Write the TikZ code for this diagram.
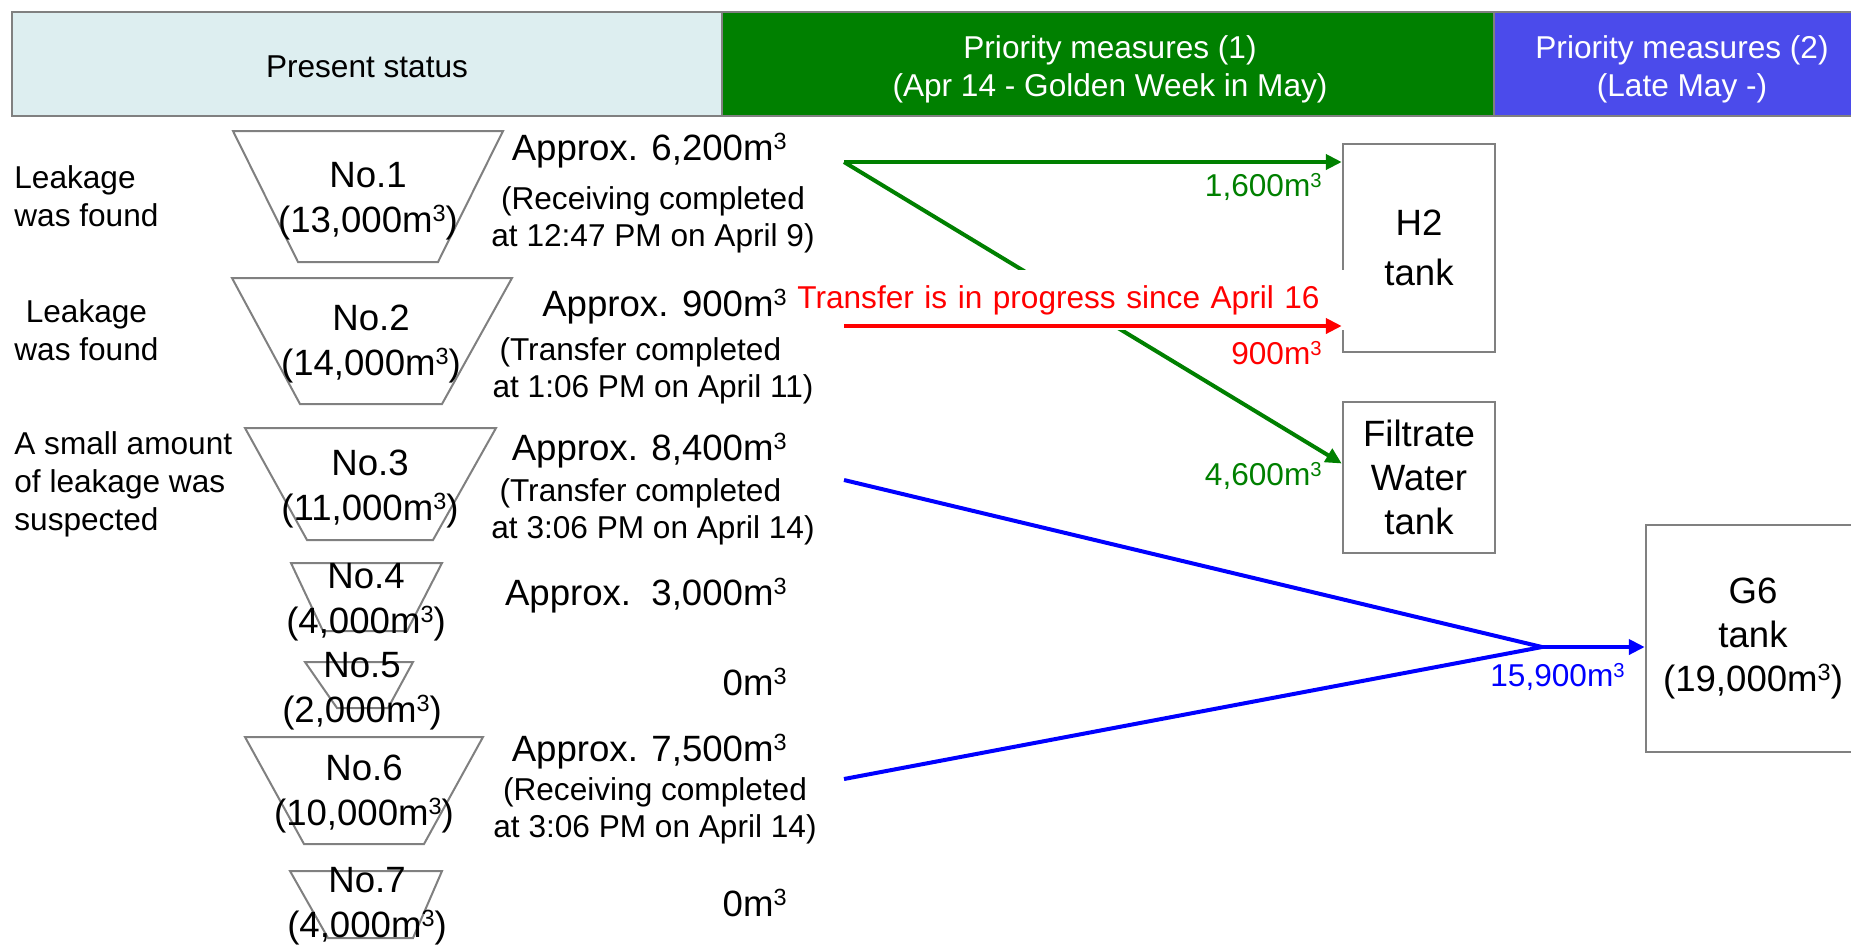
\documentclass[tikz,border=0pt]{standalone}
\usepackage{fontspec}
\usepackage{graphicx}
\setmainfont{Liberation Sans}
\usetikzlibrary{arrows.meta}
\definecolor{hdrcyan}{RGB}{221,238,240}
\definecolor{hdrgreen}{RGB}{0,128,0}
\definecolor{hdrblue}{RGB}{75,75,235}
\definecolor{lgray}{RGB}{128,128,128}
\definecolor{fgreen}{RGB}{0,128,0}
\newcommand\cub{m\raisebox{0.3em}{\scalebox{0.64}{3}}}
\begin{document}
\begin{tikzpicture}[x=0.5pt,y=-0.5pt,
  sm/.style={font=\fontsize{15.8pt}{19pt}\selectfont, inner sep=0pt},
  bg/.style={font=\fontsize{18.3pt}{22.5pt}\selectfont, inner sep=0pt, align=center},
  note/.style={font=\fontsize{15.8pt}{18.5pt}\selectfont, inner sep=0pt, align=center},
  hdr/.style={draw=lgray, line width=1.25pt, minimum height=52pt, inner sep=0pt},
  hdrtext/.style={align=center, font=\fontsize{15.8pt}{19pt}\selectfont, inner sep=0pt},
  tankbox/.style={draw=lgray, line width=1.25pt, fill=white, align=center, font=\fontsize{18.3pt}{22pt}\selectfont, inner sep=0pt},
  trap/.style={draw=lgray, line width=1pt},
  flow/.style={line width=2pt, -{Triangle[length=8pt,width=7.5pt]}},
]
\clip (0,0) rectangle (1851,944);
\fill[white] (0,0) rectangle (1851,944);

% header
\node[hdr, fill=hdrcyan, minimum width=355pt] (hd1) at (367,64) {};
\node[hdr, fill=hdrgreen, minimum width=386pt] (hd2) at (1108,64) {};
\node[hdr, fill=hdrblue, minimum width=188pt] (hd3) at (1682,64) {};
\node[hdrtext] (hd1t) at (367,67) {Present status};
\node[hdrtext, text=white] (hd2t) at (1110,69) {Priority measures (1)\\(Apr 14 - Golden Week in May)};
\node[hdrtext, text=white] (hd3t) at (1682,69) {Priority measures (2)\\(Late May -)};

% left labels
\node[sm, align=left, anchor=west] (l1) at (14,196) {Leakage\\was found};
\node[sm, align=center, anchor=west] (l2) at (14,330) {Leakage\\was found};
\node[sm, align=left, anchor=west] (l3) at (14,484) {A small amount\\of leakage was\\suspected};

% tanks (trapezoids)
\draw[trap] (233,131) -- (503,131) -- (438,262) -- (298,262) -- cycle;
\draw[trap] (232,278) -- (512,278) -- (442,404) -- (300,404) -- cycle;
\draw[trap] (245,428) -- (496,428) -- (433,540) -- (307,540) -- cycle;
\draw[trap] (291,563) -- (442,563) -- (407,631) -- (323,631) -- cycle;
\draw[trap] (305,662) -- (413,662) -- (388,708) -- (337,708) -- cycle;
\draw[trap] (245,737) -- (483,737) -- (424,844) -- (304,844) -- cycle;
\draw[trap] (290,871) -- (442,871) -- (413,938) -- (328,938) -- cycle;

\node[bg] (t1) at (368,201) {No.1\\(13,000\cub)};
\node[bg] (t2) at (371,344) {No.2\\(14,000\cub)};
\node[bg] (t3) at (370,489) {No.3\\(11,000\cub)};
\node[bg] (t4) at (366,602) {No.4\\(4,000\cub)};
\node[bg] (t5) at (362,691) {No.5\\(2,000\cub)};
\node[bg] (t6) at (364,794) {No.6\\(10,000\cub)};
\node[bg] (t7) at (367,906) {No.7\\(4,000\cub)};

% amounts
\node[bg, anchor=east] (a1) at (787,151) {Approx. 6,200\cub};
\node[bg, anchor=east] (a2) at (787,307) {Approx. 900\cub};
\node[bg, anchor=east] (a3) at (787,451) {Approx. 8,400\cub};
\node[bg, anchor=east] (a4) at (787,596) {Approx.\ \ 3,000\cub};
\node[bg, anchor=east] (a5) at (787,682) {0\cub};
\node[bg, anchor=east] (a6) at (787,752) {Approx. 7,500\cub};
\node[bg, anchor=east] (a7) at (787,903) {0\cub};

\node[note] (n1) at (653,220) {(Receiving completed\\at 12:47 PM on April 9)};
\node[note] (n2) at (653,371) {(Transfer completed\hspace*{0.8em}\\at 1:06 PM on April 11)};
\node[note] (n3) at (653,512) {(Transfer completed\hspace*{0.8em}\\at 3:06 PM on April 14)};
\node[note] (n6) at (655,811) {(Receiving completed\\at 3:06 PM on April 14)};

% destination tanks
\node[tankbox, minimum width=76pt, minimum height=104pt, font=\fontsize{18.3pt}{25pt}\selectfont] (h2t) at (1419,248) {H2\\tank};
\node[tankbox, minimum width=76pt, minimum height=75.5pt] (filt) at (1419,477.5) {Filtrate\\Water\\tank};
\node[tankbox, minimum width=107pt, minimum height=113.5pt] (g6) at (1753,638.5) {G6\\tank\\(19,000\cub)};

% flows
\coordinate (s1) at (844,162);
\coordinate (s2) at (844,326);
\coordinate (s3) at (844,480);
\coordinate (s6) at (844,779);
\coordinate (j) at (1542,647);

\draw[flow, fgreen] (s1) -- (s1 -| h2t.west);
\draw[flow, fgreen] (s1) -- ([yshift=7pt]filt.west);
\node[sm, text=red, fill=white, anchor=west, text width=273pt, align=left, minimum height=30pt, inner xsep=1pt] (tr) at (795,300) {Transfer is in progress since April 16};
\draw[flow, red] (s2) -- (s2 -| h2t.west);
\draw[line width=2pt, blue] (s3) -- (j);
\draw[line width=2pt, blue] (s6) -- (j);
\draw[flow, blue] (j) -- (j -| g6.west);

\node[sm, text=fgreen, anchor=east] (q1) at (1322,187) {1,600\cub};
\node[sm, text=red, anchor=east] (q2) at (1322,353) {900\cub};
\node[sm, text=fgreen, anchor=east] (q3) at (1322,476) {4,600\cub};
\node[sm, text=blue, anchor=east] (q4) at (1625,677) {15,900\cub};
\end{tikzpicture}
\end{document}
